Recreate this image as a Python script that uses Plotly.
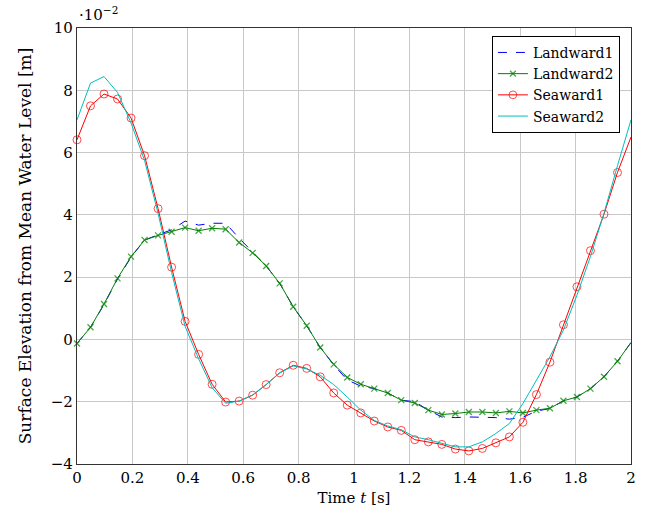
import plotly.graph_objects as go

# time samples (s)
n_pts = 42
time_s = [i * 2.0 / 41 for i in range(n_pts)]

# surface elevation values in units of 1e-2 m
landward1 = [-0.13, 0.39, 1.12, 1.94, 2.64, 3.19, 3.36, 3.52, 3.80, 3.67, 3.73, 3.73,
             3.25, 2.82, 2.36, 1.80, 1.05, 0.44, -0.26, -0.82, -1.30, -1.50, -1.58, -1.72,
             -1.95, -2.00, -2.27, -2.49, -2.51, -2.49, -2.49, -2.51, -2.56, -2.50, -2.30,
             -2.22, -1.97, -1.85, -1.58, -1.20, -0.70, -0.10]
landward2 = [-0.13, 0.39, 1.14, 1.96, 2.66, 3.19, 3.34, 3.46, 3.59, 3.49, 3.57, 3.54,
             3.11, 2.78, 2.36, 1.80, 1.05, 0.44, -0.26, -0.80, -1.22, -1.44, -1.58, -1.72,
             -1.95, -2.04, -2.27, -2.41, -2.38, -2.33, -2.33, -2.36, -2.31, -2.36, -2.27,
             -2.21, -1.97, -1.85, -1.58, -1.20, -0.70, -0.10]
seaward1 = [6.41, 7.50, 7.88, 7.72, 7.11, 5.90, 4.20, 2.32, 0.58, -0.48, -1.44, -2.01,
            -1.98, -1.79, -1.45, -1.07, -0.83, -0.93, -1.20, -1.72, -2.11, -2.36, -2.62,
            -2.81, -2.92, -3.22, -3.29, -3.37, -3.52, -3.58, -3.50, -3.32, -3.13, -2.66,
            -1.77, -0.73, 0.47, 1.69, 2.85, 4.02, 5.36, 6.50]
seaward2 = [7.05, 8.23, 8.44, 7.93, 6.95, 5.75, 4.05, 2.15, 0.42, -0.62, -1.55, -2.05,
            -1.98, -1.78, -1.45, -1.08, -0.85, -0.95, -1.15, -1.45, -1.85, -2.27, -2.60,
            -2.78, -2.90, -3.13, -3.22, -3.34, -3.45, -3.45, -3.29, -3.02, -2.70, -2.06,
            -1.31, -0.56, 0.30, 1.42, 2.66, 4.05, 5.58, 7.05]

x_ticks = [0, 0.2, 0.4, 0.6, 0.8, 1, 1.2, 1.4, 1.6, 1.8, 2]
x_tick_labels = ["0", "0.2", "0.4", "0.6", "0.8", "1", "1.2", "1.4", "1.6", "1.8", "2"]
y_ticks = [-4, -2, 0, 2, 4, 6, 8, 10]
y_tick_labels = ["\u22124", "\u22122", "0", "2", "4", "6", "8", "10"]

FONT = "DejaVu Serif"
marker_sizes_circle = [8] * (n_pts - 1) + [0]
marker_sizes_x = [6] * (n_pts - 1) + [0]

fig = go.Figure()
fig.add_trace(go.Scatter(x=time_s, y=landward1, mode="lines", name="Landward1",
                         line=dict(color="#0000ff", width=1, dash="dash"), cliponaxis=False))
fig.add_trace(go.Scatter(x=time_s, y=landward2, mode="lines+markers", name="Landward2",
                         line=dict(color="#008000", width=1),
                         marker=dict(symbol="x-thin", size=marker_sizes_x,
                                     line=dict(color="#008000", width=1.3)),
                         cliponaxis=False))
fig.add_trace(go.Scatter(x=time_s, y=seaward1, mode="lines+markers", name="Seaward1",
                         line=dict(color="#ff0000", width=1),
                         marker=dict(symbol="circle-open", size=marker_sizes_circle,
                                     color="#ff0000", line=dict(width=1)),
                         cliponaxis=False))
fig.add_trace(go.Scatter(x=time_s, y=seaward2, mode="lines", name="Seaward2",
                         line=dict(color="#00bfbf", width=1), cliponaxis=False))

fig.update_layout(
    width=648, height=515,
    margin=dict(l=77, r=17, t=28, b=51),
    paper_bgcolor="white", plot_bgcolor="white",
    font=dict(family=FONT, size=15, color="black"),
    showlegend=True,
    legend=dict(x=0.98, y=0.982, xanchor="right", yanchor="top",
                bgcolor="white", bordercolor="black", borderwidth=1,
                font=dict(family=FONT, size=14), itemwidth=30,
                tracegroupgap=0),
    xaxis=dict(range=[0, 2], tickvals=x_ticks, ticktext=x_tick_labels,
               showgrid=True, gridcolor="#c8c8c8", gridwidth=1,
               showline=True, linecolor="#333333", linewidth=1.2, mirror=True,
               ticks="", zeroline=False, tickfont=dict(family=FONT, size=15),
               title=dict(text="Time <i>t</i> [s]", font=dict(family=FONT, size=15), standoff=6)),
    yaxis=dict(range=[-4, 10], tickvals=y_ticks, ticktext=y_tick_labels,
               showgrid=True, gridcolor="#c8c8c8", gridwidth=1,
               showline=True, linecolor="#333333", linewidth=1.2, mirror=True,
               ticks="", zeroline=False, tickfont=dict(family=FONT, size=15),
               title=dict(text="Surface Elevation from Mean Water Level [m]",
                          font=dict(family=FONT, size=17), standoff=14)),
    annotations=[dict(text="\u00b710<sup>\u22122</sup>", xref="paper", yref="paper",
                      x=0, y=1, xanchor="left", yanchor="bottom", yshift=2,
                      showarrow=False, font=dict(family=FONT, size=15))],
)

fig.write_html("out.html")
